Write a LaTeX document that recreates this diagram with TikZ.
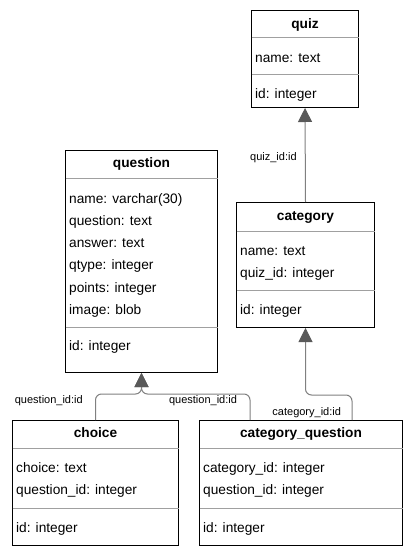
\documentclass[tikz,border=0pt]{standalone}
\usepackage{fontspec}
\setmainfont{Liberation Sans}
\usetikzlibrary{arrows.meta,calc}
\definecolor{sepgray}{HTML}{A0A0A0}
\definecolor{edgegray}{HTML}{808080}
\definecolor{tipgray}{HTML}{595959}

\begin{document}
\begin{tikzpicture}[x=1pt,y=-1pt,
  table/.style={draw=black,line width=1pt,anchor=north west,inner sep=0pt},
  title/.style={font=\bfseries\fontsize{13.7}{16}\selectfont,inner sep=0pt,text height=10pt,text depth=3pt,yshift=-1.8pt},
  field/.style={anchor=west,font=\fontsize{13.7}{16}\selectfont,inner sep=0pt,text height=10pt,text depth=3pt,yshift=-1.8pt},
  sep/.style={draw=sepgray,line width=1pt,shorten <=0.5pt,shorten >=0.5pt},
  fk/.style={draw=edgegray,line width=1pt,rounded corners=6pt,-{Triangle[width=14pt,length=14pt,color=tipgray]}},
  lbl/.style={font=\fontsize{11}{13}\selectfont,inner sep=1pt,text height=8pt,text depth=2.5pt,yshift=-0.8pt}]
\def\dy{22.2};
\def\px{4};
\def\ly{394};

\useasboundingbox (0,0) rectangle (414,556);

% quiz
\node[table,minimum width=107pt,minimum height=97pt] (quiz) at (251,10) {};
\node[title] (quizT) at (quiz.north |- 0,23) {quiz};
\draw[sep] (quiz.west |- 0,38) -- (quiz.east |- 0,38);
\node[field] (quizA) at (251+\px,57) {name: text};
\draw[sep] (quiz.west |- 0,75) -- (quiz.east |- 0,75);
\node[field] (quizI) at (251+\px,93) {id: integer};

% category
\node[table,minimum width=138pt,minimum height=125pt] (category) at (236,202) {};
\node[title] (categoryT) at (category.north |- 0,215) {category};
\draw[sep] (category.west |- 0,231) -- (category.east |- 0,231);
\node[field] (categoryA) at (236+\px,249.7) {name: text};
\node[field] (categoryB) at (236+\px,249.7+\dy) {quiz\_id: integer};
\draw[sep] (category.west |- 0,290) -- (category.east |- 0,290);
\node[field] (categoryI) at (236+\px,309) {id: integer};

% question
\node[table,minimum width=152pt,minimum height=222pt] (question) at (65,150) {};
\node[title] (questionT) at (question.north |- 0,162) {question};
\draw[sep] (question.west |- 0,178) -- (question.east |- 0,178);
\node[field] (questionA) at (65+\px,198) {name: varchar(30)};
\node[field] (questionB) at (65+\px,198+\dy) {question: text};
\node[field] (questionC) at (65+\px,198+2*\dy) {answer: text};
\node[field] (questionD) at (65+\px,198+3*\dy) {qtype: integer};
\node[field] (questionE) at (65+\px,198+4*\dy) {points: integer};
\node[field] (questionF) at (65+\px,198+5*\dy) {image: blob};
\draw[sep] (question.west |- 0,327) -- (question.east |- 0,327);
\node[field] (questionI) at (65+\px,345) {id: integer};

% choice
\node[table,minimum width=166pt,minimum height=125pt] (choice) at (12,420) {};
\node[title] (choiceT) at (choice.north |- 0,432) {choice};
\draw[sep] (choice.west |- 0,448) -- (choice.east |- 0,448);
\node[field] (choiceA) at (12+\px,467) {choice: text};
\node[field] (choiceB) at (12+\px,467+\dy) {question\_id: integer};
\draw[sep] (choice.west |- 0,508) -- (choice.east |- 0,508);
\node[field] (choiceI) at (12+\px,527) {id: integer};

% category_question
\node[table,minimum width=203pt,minimum height=125pt] (catq) at (199,420) {};
\node[title] (catqT) at (catq.north |- 0,432) {category\_question};
\draw[sep] (catq.west |- 0,448) -- (catq.east |- 0,448);
\node[field] (catqA) at (199+\px,467) {category\_id: integer};
\node[field] (catqB) at (199+\px,467+\dy) {question\_id: integer};
\draw[sep] (catq.west |- 0,508) -- (catq.east |- 0,508);
\node[field] (catqI) at (199+\px,527) {id: integer};

% foreign keys
\coordinate (catqL) at ($(catq.north west)!0.25!(catq.north east)$);
\coordinate (catqR) at ($(catq.north west)!0.75!(catq.north east)$);
\draw[fk] (category.north) -- (quiz.south);
\draw[fk] (choice.north) -- (choice.north |- 0,\ly) -- (question.south |- 0,\ly) -- (question.south);
\draw[fk] (catqL) -- (catqL |- 0,\ly) -- (question.south |- 0,\ly) -- (question.south);
\draw[fk] (catqR) -- (catqR |- 0,395) -- (category.south |- 0,395) -- (category.south);

\node[lbl] (quizL) at (273.4,156.7) {quiz\_id:id};
\node[lbl] (choiceL) at (48.8,400) {question\_id:id};
\node[lbl,fill=white] (catqQL) at (203,400) {question\_id:id};
\node[lbl] (catqCL) at (306.7,411.7) {category\_id:id};
\end{tikzpicture}
\end{document}
